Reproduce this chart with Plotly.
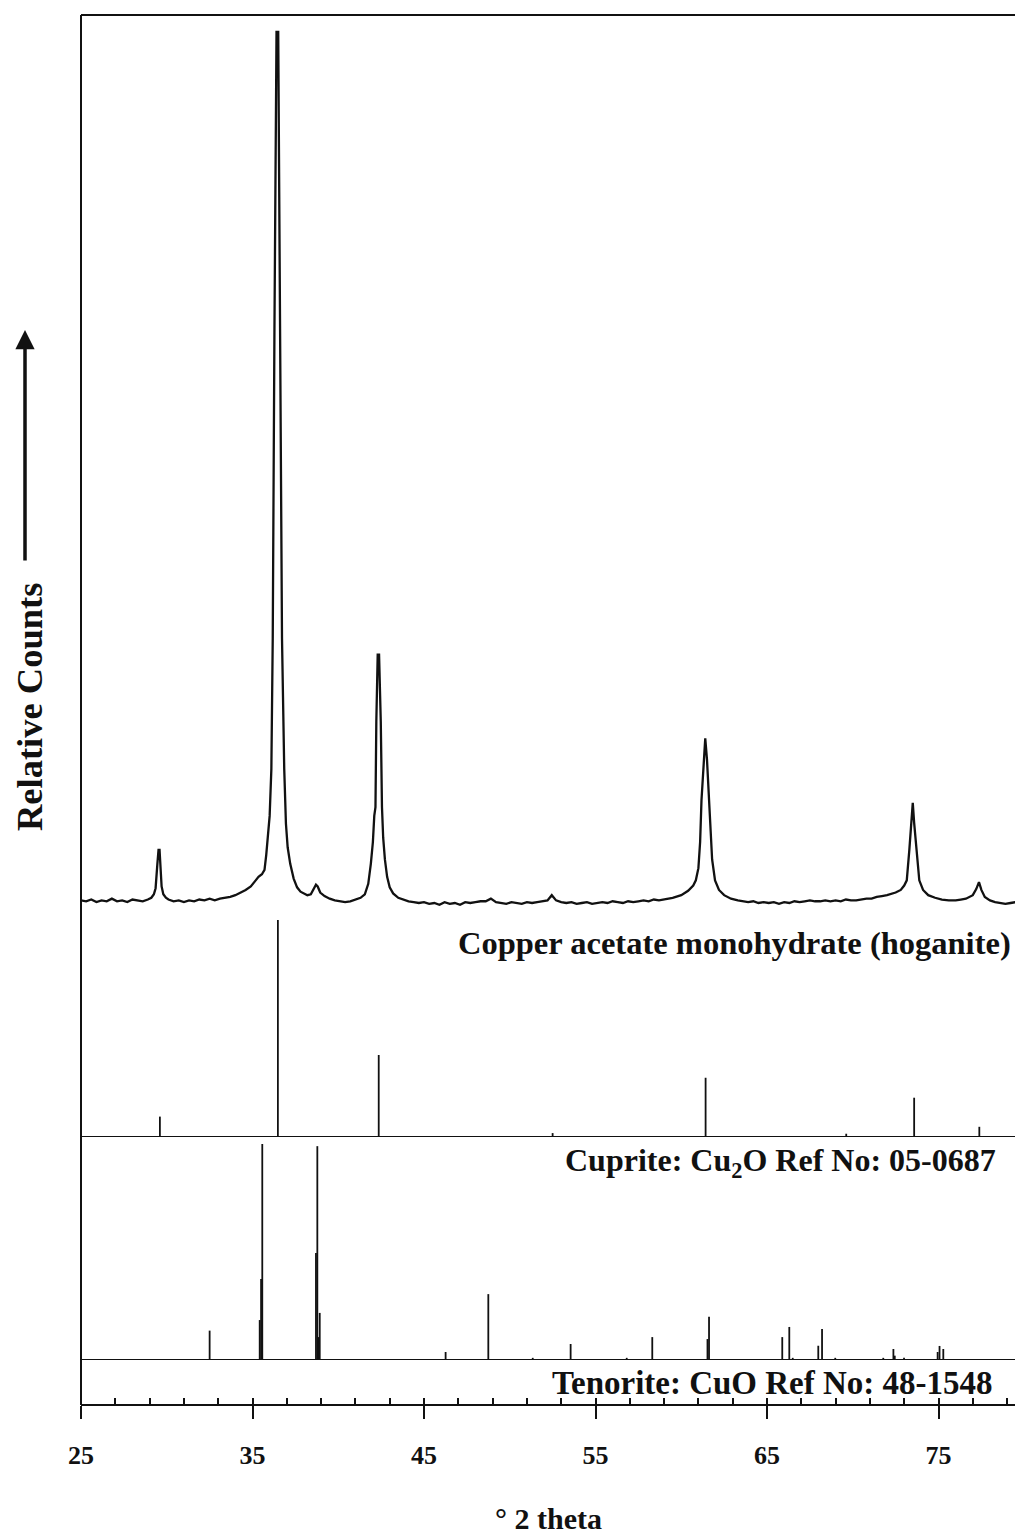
import plotly.graph_objects as go

# ---------------- data ----------------
pattern_2theta = [
    25.0, 25.3, 25.6, 25.9, 26.2, 26.5, 26.8, 27.1, 27.4, 27.7,
    28.0, 28.3, 28.6, 28.9, 29.1, 29.25, 29.35, 29.45, 29.52, 29.58,
    29.63, 29.7, 29.8, 29.95, 30.1, 30.4, 30.7, 31.0, 31.3, 31.6,
    31.9, 32.2, 32.5, 32.8, 33.1, 33.4, 33.7, 34.0, 34.3, 34.6,
    34.9, 35.15, 35.35, 35.55, 35.7, 35.8, 35.9, 36.0, 36.1, 36.18,
    36.28, 36.4, 36.5, 36.62, 36.72, 36.85, 36.95, 37.05, 37.2, 37.4,
    37.6, 37.8, 38.0, 38.2, 38.4, 38.55, 38.7, 38.8, 38.95, 39.2,
    39.5, 39.8, 40.1, 40.4, 40.7, 41.0, 41.3, 41.55, 41.75, 41.9,
    42.02, 42.1, 42.17, 42.22, 42.3, 42.38, 42.48, 42.55, 42.62, 42.72,
    42.85, 43.0, 43.2, 43.5, 43.8, 44.1, 44.4, 44.7, 45.0, 45.3,
    45.6, 45.9, 46.2, 46.5, 46.8, 47.1, 47.4, 47.7, 48.0, 48.3,
    48.6, 48.9, 49.2, 49.5, 49.8, 50.1, 50.4, 50.7, 51.0, 51.3,
    51.6, 51.9, 52.2, 52.45, 52.7, 53.0, 53.3, 53.6, 53.9, 54.2,
    54.5, 54.8, 55.1, 55.4, 55.7, 56.0, 56.3, 56.6, 56.9, 57.2,
    57.5, 57.8, 58.1, 58.4, 58.7, 59.0, 59.5, 60.0, 60.4, 60.7,
    60.85, 61.0, 61.1, 61.18, 61.3, 61.4, 61.5, 61.62, 61.72, 61.8,
    61.97, 62.2, 62.5, 62.9, 63.3, 63.6, 63.9, 64.2, 64.5, 64.8,
    65.1, 65.4, 65.7, 66.0, 66.3, 66.6, 66.9, 67.2, 67.5, 67.8,
    68.1, 68.4, 68.7, 69.0, 69.3, 69.6, 69.9, 70.2, 70.5, 70.8,
    71.1, 71.4, 71.7, 72.0, 72.5, 72.8, 73.0, 73.15, 73.3, 73.42,
    73.5, 73.58, 73.72, 73.88, 74.1, 74.4, 74.8, 75.2, 75.6, 76.0,
    76.3, 76.6, 77.0, 77.2, 77.36, 77.5, 77.7, 78.0, 78.3, 78.6,
    78.9, 79.2, 79.5,
]
pattern_counts = [
    0.3, 0.2, 0.4, 0.1, 0.3, 0.2, 0.5, 0.2, 0.3, 0.1,
    0.4, 0.3, 0.2, 0.4, 0.6, 1.0, 1.7, 4.4, 6.1, 6.1,
    4.4, 1.9, 1.0, 0.6, 0.4, 0.2, 0.3, 0.1, 0.3, 0.2,
    0.4, 0.3, 0.5, 0.3, 0.5, 0.6, 0.7, 0.9, 1.2, 1.5,
    1.9, 2.5, 3.0, 3.3, 3.8, 5.5, 8.0, 10.0, 15.4, 30.4,
    66.0, 100.0, 100.0, 66.0, 30.4, 15.4, 9.1, 6.4, 4.5, 2.8,
    1.8, 1.3, 1.1, 0.9, 1.0, 1.5, 2.1, 1.9, 1.2, 0.8,
    0.5, 0.3, 0.2, 0.1, 0.2, 0.4, 0.6, 1.0, 2.2, 4.5,
    7.0, 10.0, 11.0, 20.8, 28.5, 28.5, 20.8, 11.0, 7.5, 5.0,
    3.0, 1.8, 1.1, 0.6, 0.4, 0.2, 0.1, 0.0, 0.1, -0.1,
    0.0, -0.2, 0.1, -0.1, 0.0, -0.2, 0.1, 0.0, 0.1, 0.2,
    0.2, 0.5, 0.1, 0.0, -0.1, 0.1, 0.0, -0.1, 0.1, 0.0,
    0.1, 0.2, 0.3, 0.9, 0.3, 0.1, 0.0, 0.1, -0.1, 0.0,
    0.1, -0.1, 0.0, 0.1, 0.0, 0.2, 0.1, 0.0, 0.2, 0.1,
    0.2, 0.3, 0.2, 0.4, 0.3, 0.4, 0.6, 0.9, 1.4, 2.0,
    2.6, 4.0, 7.0, 11.8, 16.0, 18.9, 16.5, 11.8, 7.0, 5.0,
    2.6, 1.5, 0.9, 0.5, 0.3, 0.2, 0.1, 0.2, 0.0, 0.1,
    0.0, 0.1, -0.1, 0.1, 0.0, 0.2, 0.1, 0.2, 0.3, 0.2,
    0.2, 0.3, 0.2, 0.3, 0.2, 0.4, 0.3, 0.3, 0.4, 0.5,
    0.5, 0.7, 0.8, 0.9, 1.2, 1.5, 2.0, 2.6, 6.1, 9.2,
    11.5, 9.2, 6.1, 2.6, 1.5, 0.9, 0.6, 0.4, 0.3, 0.3,
    0.4, 0.5, 0.9, 1.6, 2.4, 1.5, 0.7, 0.3, 0.1, 0.0,
    -0.1, 0.0, 0.1,
]

# Cuprite (Cu2O) reference sticks, relative intensity %
cuprite_2theta = [29.60, 36.48, 42.36, 52.50, 61.42, 69.62, 73.58, 77.38]
cuprite_intensity = [9.4, 100.0, 37.8, 1.8, 27.3, 1.5, 18.1, 4.7]

# Tenorite (CuO) reference sticks, relative intensity %
tenorite_2theta = [32.50, 35.42, 35.50, 35.57, 38.70, 38.78, 38.85, 38.92,
                   46.26, 48.75, 51.34, 53.55, 56.82, 58.31, 61.53, 61.62,
                   65.89, 66.30, 66.50, 67.99, 68.21, 68.98, 71.78, 72.37,
                   72.45, 72.99, 74.95, 75.06, 75.28]
tenorite_intensity = [13.6, 18.5, 37.5, 100.0, 49.5, 99.0, 10.6, 21.8,
                      3.7, 30.5, 1.0, 7.4, 1.0, 10.6, 9.7, 20.0,
                      10.6, 15.3, 1.0, 6.6, 14.4, 1.0, 1.0, 5.1,
                      2.0, 1.0, 3.7, 6.5, 5.1]

x_tick_values = [25, 35, 45, 55, 65, 75]
x_tick_labels = ["25", "35", "45", "55", "65", "75"]

label_pattern = "Copper acetate monohydrate (hoganite)"
label_cuprite = "Cuprite: Cu<sub>2</sub>O Ref No: 05-0687"
label_tenorite = "Tenorite: CuO Ref No: 48-1548"
x_title = "° 2 theta"
y_title = "Relative Counts"

# ---------------- layout geometry (pixels) ----------------
W, H = 1015, 1535
L, R, T, B = 81, 0, 15, 130
PW, PH = W - L - R, H - T - B
X_RANGE = [25, 25 + (W - L - R) / 17.15]


def py(p):  # pixel row -> paper y
    return (H - B - p) / PH


def px(p):  # pixel column -> paper x
    return (p - L) / PW


def sticks(pos, hgt):
    xs, ys = [], []
    for p, v in zip(pos, hgt):
        xs += [p, p, None]
        ys += [0, v, None]
    return xs, ys


FONT = "Liberation Serif, Times New Roman, serif"
INK = "#111111"

fig = go.Figure()

fig.add_trace(go.Scatter(x=pattern_2theta, y=pattern_counts, mode="lines",
                         line=dict(color=INK, width=2.3), xaxis="x", yaxis="y3",
                         showlegend=False, hoverinfo="skip"))
cx, cy = sticks(cuprite_2theta, cuprite_intensity)
fig.add_trace(go.Scatter(x=cx, y=cy, mode="lines", line=dict(color=INK, width=1.8),
                         xaxis="x", yaxis="y2", showlegend=False, hoverinfo="skip"))
tx, ty = sticks(tenorite_2theta, tenorite_intensity)
fig.add_trace(go.Scatter(x=tx, y=ty, mode="lines", line=dict(color=INK, width=1.8),
                         xaxis="x", yaxis="y", showlegend=False, hoverinfo="skip"))

# y-axis domains (non-overlapping)
split = 912
d_ten = [py(1360), py(1137)]
d_cup = [py(1137), py(split)]
d_pat = [py(split), 1.0]
ten_range = [0, 100 * (1360 - 1137) / 216]
cup_range = [0, 100 * (1137 - split) / 217]
u = 100 / (903 - 32)
pat_range = [-(split - 903) * u, (903 - 15) * u]

hidden = dict(visible=False, fixedrange=True)

fig.update_layout(
    width=W, height=H,
    margin=dict(l=L, r=R, t=T, b=B),
    paper_bgcolor="white", plot_bgcolor="rgba(0,0,0,0)",
    showlegend=False,
    xaxis=dict(range=X_RANGE, anchor="free", position=0, domain=[0, 1],
               showline=True, linecolor=INK, linewidth=2,
               showgrid=False, zeroline=False,
               tickmode="array", tickvals=x_tick_values, ticktext=x_tick_labels,
               ticks="outside", ticklen=13, tickwidth=1.5, tickcolor=INK,
               ticklabelstandoff=14,
               tickfont=dict(family=FONT, size=26, color=INK, weight="bold")),
    xaxis2=dict(range=X_RANGE, anchor="free", position=0, overlaying="x",
                domain=[0, 1], showline=False, showgrid=False, zeroline=False,
                showticklabels=False, tick0=25, dtick=2,
                ticks="inside", ticklen=7, tickwidth=1.5, tickcolor=INK),
    yaxis=dict(domain=d_ten, range=ten_range, anchor="x", **hidden),
    yaxis2=dict(domain=d_cup, range=cup_range, anchor="x", **hidden),
    yaxis3=dict(domain=d_pat, range=pat_range, anchor="x", **hidden),
)

# invisible trace to activate xaxis2 ticks
fig.add_trace(go.Scatter(x=[X_RANGE[0]], y=[0], mode="markers", marker=dict(opacity=0),
                         xaxis="x2", yaxis="y", showlegend=False, hoverinfo="skip"))

# frame lines and panel separators
line_style = dict(color=INK, width=2)
fig.add_shape(type="line", xref="paper", yref="paper", x0=0, x1=0, y0=0, y1=1, line=line_style)
fig.add_shape(type="line", xref="paper", yref="paper", x0=0, x1=1, y0=1, y1=1, line=line_style)
fig.add_shape(type="line", xref="paper", yref="y2", x0=0, x1=1, y0=0, y1=0, line=line_style)
fig.add_shape(type="line", xref="paper", yref="y", x0=0, x1=1, y0=0, y1=0, line=line_style)

# panel labels
fig.add_annotation(text=label_pattern, xref="paper", yref="paper", x=px(1013), y=py(943),
                   xanchor="right", yanchor="middle", showarrow=False,
                   font=dict(family=FONT, size=32.5, color=INK, weight="bold"))
fig.add_annotation(text=label_cuprite, xref="paper", yref="paper", x=px(998), y=py(1162),
                   xanchor="right", yanchor="middle", showarrow=False,
                   font=dict(family=FONT, size=32, color=INK, weight="bold"))
fig.add_annotation(text=label_tenorite, xref="paper", yref="paper", x=px(995), y=py(1383),
                   xanchor="right", yanchor="middle", showarrow=False,
                   font=dict(family=FONT, size=33, color=INK, weight="bold"))

# axis titles
fig.add_annotation(text=x_title, xref="paper", yref="paper", x=px(548), y=py(1518),
                   xanchor="center", yanchor="middle", showarrow=False,
                   font=dict(family=FONT, size=30, color=INK, weight="bold"))
fig.add_annotation(text=y_title, xref="paper", yref="paper", x=px(29), y=py(707),
                   xanchor="center", yanchor="middle", showarrow=False, textangle=-90,
                   font=dict(family=FONT, size=36.5, color=INK, weight="bold"))
# upward arrow next to the y title
fig.add_annotation(text="", xref="paper", yref="paper", x=px(25), y=py(330),
                   ax=0, ay=232, axref="pixel", ayref="pixel", showarrow=True,
                   arrowhead=2, arrowsize=1.1, arrowwidth=3.5, arrowcolor=INK)

fig.write_html("out.html")
